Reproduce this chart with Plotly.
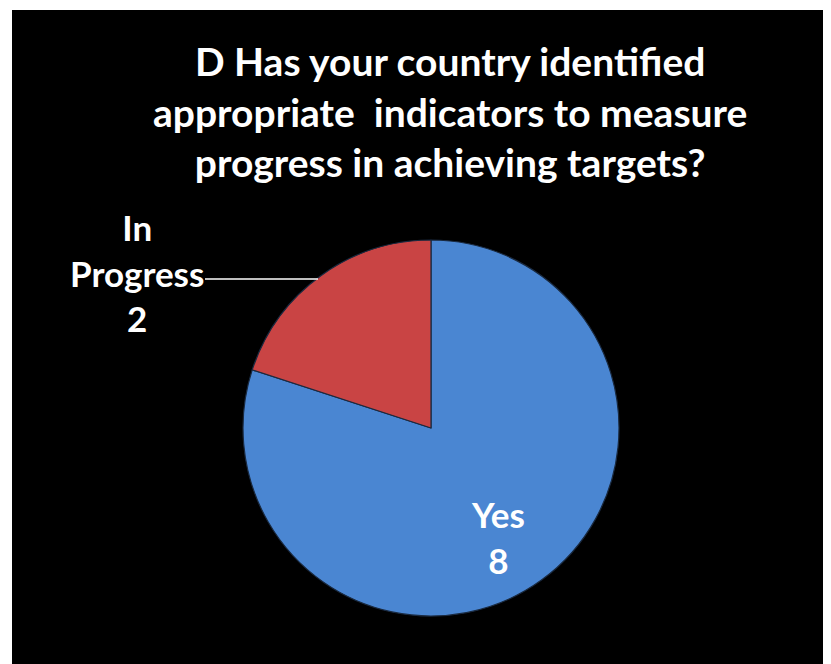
import plotly.graph_objects as go

labels = ["Yes", "In Progress"]
values = [8, 2]
colors = ["#4A86D2", "#C94444"]
title_lines = ["D Has your country identified",
               "appropriate  indicators to measure",
               "progress in achieving targets?"]

W, H = 831, 664
OFF = 8  # page body margin offset
FONT = "Lato, 'Open Sans', sans-serif"


def px(x):
    return (x - OFF) / W


def py(y):
    return 1 - (y - OFF) / H


fig = go.Figure()
R = 188
CX, CY = 431, 428
fig.add_trace(go.Pie(
    labels=labels, values=values, sort=False, direction="clockwise",
    rotation=0, marker=dict(colors=colors, line=dict(color="#1a2a40", width=1.2)),
    textinfo="none", hoverinfo="label+value", showlegend=False,
    domain=dict(x=[px(CX - R), px(CX + R)],
                y=[py(CY + R), py(CY - R)]),
))

# black background panel
fig.add_shape(type="rect", xref="paper", yref="paper",
              x0=px(12), x1=1.0, y0=0, y1=py(10),
              fillcolor="black", line=dict(width=0), layer="below")

fig.add_annotation(text="<b>" + "<br>".join(title_lines) + "</b>",
                   xref="paper", yref="paper", x=px(450), y=py(112),
                   xanchor="center", yanchor="middle", showarrow=False,
                   font=dict(family=FONT, size=39, color="white"),
                   align="center")

fig.add_annotation(text="<b>%s<br>%d</b>" % (labels[0], values[0]),
                   xref="paper", yref="paper", x=px(498), y=py(537),
                   xanchor="center", yanchor="middle", showarrow=False,
                   font=dict(family=FONT, size=35, color="white"), align="center")

fig.add_annotation(text="<b>In<br>Progress<br>%d</b>" % values[1],
                   xref="paper", yref="paper", x=px(137), y=py(272),
                   xanchor="center", yanchor="middle", showarrow=False,
                   font=dict(family=FONT, size=35, color="white"), align="center")

fig.add_shape(type="line", xref="paper", yref="paper",
              x0=px(205), x1=px(318), y0=py(279), y1=py(279),
              line=dict(color="white", width=1.5))

fig.update_layout(width=W, height=H, margin=dict(l=0, r=0, t=0, b=0),
                  paper_bgcolor="white", plot_bgcolor="white")

fig.write_html("out.html")
